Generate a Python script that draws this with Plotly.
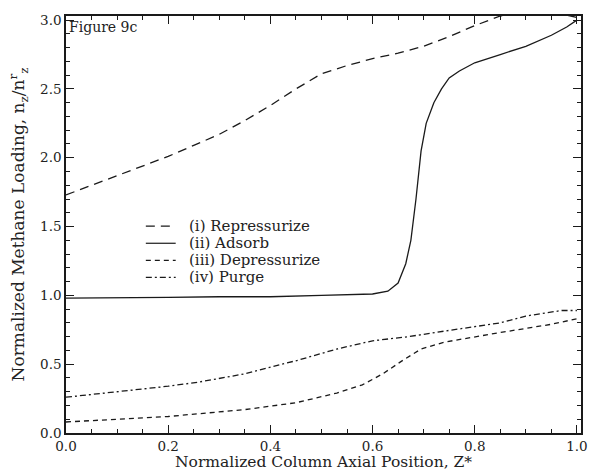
import plotly.graph_objects as go

# Normalized axial position along the column
z_rep = [0.0, 0.05, 0.10, 0.15, 0.20, 0.25, 0.30, 0.35, 0.40, 0.45, 0.50,
         0.55, 0.60, 0.65, 0.70, 0.75, 0.80, 0.85, 0.90, 0.95, 1.00]
load_rep = [1.73, 1.80, 1.87, 1.94, 2.01, 2.09, 2.17, 2.27, 2.38, 2.50, 2.61,
            2.67, 2.72, 2.76, 2.81, 2.88, 2.96, 3.03, 3.06, 3.06, 3.02]

z_ads = [0.0, 0.10, 0.20, 0.30, 0.40, 0.50, 0.60, 0.63, 0.65, 0.665, 0.675,
         0.685, 0.695, 0.705, 0.72, 0.735, 0.75, 0.77, 0.80, 0.85, 0.90,
         0.95, 0.98, 1.00]
load_ads = [0.98, 0.98, 0.985, 0.99, 0.99, 1.0, 1.01, 1.03, 1.09, 1.23, 1.40,
            1.70, 2.05, 2.25, 2.40, 2.50, 2.58, 2.63, 2.69, 2.75, 2.81,
            2.89, 2.95, 3.00]

z_dep = [0.0, 0.10, 0.20, 0.26, 0.35, 0.45, 0.53, 0.58, 0.62, 0.66, 0.695,
         0.74, 0.80, 0.85, 0.90, 0.95, 1.00]
load_dep = [0.08, 0.10, 0.12, 0.14, 0.17, 0.22, 0.29, 0.35, 0.43, 0.53, 0.61,
            0.66, 0.70, 0.73, 0.76, 0.79, 0.83]

z_pur = [0.0, 0.10, 0.20, 0.26, 0.35, 0.455, 0.53, 0.60, 0.67, 0.74, 0.80,
         0.85, 0.90, 0.935, 0.97, 1.00]
load_pur = [0.26, 0.30, 0.34, 0.37, 0.43, 0.53, 0.61, 0.67, 0.70, 0.74, 0.77,
            0.80, 0.85, 0.87, 0.89, 0.89]

names = ["(i) Repressurize", "(ii) Adsorb", "(iii) Depressurize", "(iv) Purge"]
dashes = ["9px,6px", "solid", "5px,4px", "6px,3px,2px,3px"]
curves = [(z_rep, load_rep), (z_ads, load_ads), (z_dep, load_dep), (z_pur, load_pur)]

FONT = "DejaVu Serif"
INK = "#1a1a1a"
TEXT = "#222222"

fig = go.Figure()
for name, (xs, ys), dash in zip(names, curves, dashes):
    fig.add_trace(go.Scatter(
        x=xs, y=ys, mode="lines", name=name, showlegend=False,
        line=dict(color=INK, width=1.3, dash=dash),
    ))

axis_common = dict(
    showline=True, linecolor=INK, linewidth=1.5, mirror="allticks",
    ticks="inside", ticklen=8, tickwidth=1, tickcolor=INK,
    showgrid=False, zeroline=False, automargin=False,
    tickfont=dict(family=FONT, size=13.5, color=TEXT),
)

fig.update_xaxes(
    range=[0, 1.008], dtick=0.2, tickformat=".1f",
    minor=dict(dtick=0.05, ticks="inside", ticklen=4, tickcolor=INK),
    **axis_common,
)
fig.update_yaxes(
    range=[0, 3.03], dtick=0.5, tickformat=".1f",
    minor=dict(dtick=0.1, ticks="inside", ticklen=4, tickcolor=INK),
    title=dict(text="Normalized Methane Loading, n<sub>z</sub>/n<sup>r</sup><sub>z</sub>",
               font=dict(family=FONT, size=17, color=TEXT), standoff=11),
    **axis_common,
)

# Horizontal axis caption, set just above the bottom edge
fig.add_annotation(
    text="Normalized Column Axial Position, Z*",
    xref="paper", yref="paper", x=0.5, y=-0.097,
    xanchor="center", yanchor="bottom", showarrow=False,
    font=dict(family=FONT, size=15.5, color=TEXT),
)

fig.add_annotation(
    text="Figure 9c", xref="paper", yref="paper", x=0.002, y=0.997,
    xanchor="left", yanchor="top", showarrow=False,
    font=dict(family=FONT, size=14, color=TEXT),
)

# Hand-built key: short line sample followed by the label
key_x0, key_x1, key_tx = 0.155, 0.213, 0.235
key_top, key_step = 0.496, 0.041
for i, (name, dash) in enumerate(zip(names, dashes)):
    yk = key_top - i * key_step
    fig.add_shape(
        type="line", xref="paper", yref="paper",
        x0=key_x0, x1=key_x1, y0=yk, y1=yk,
        line=dict(color=INK, width=1.2, dash=dash),
    )
    fig.add_annotation(
        text=name, xref="paper", yref="paper", x=key_tx, y=yk,
        xanchor="left", yanchor="middle", showarrow=False,
        font=dict(family=FONT, size=15, color=TEXT),
    )

fig.update_layout(
    width=594, height=473,
    margin=dict(l=66, r=13, t=16, b=40),
    paper_bgcolor="white", plot_bgcolor="white",
    showlegend=False,
)

fig.write_html("out.html")
